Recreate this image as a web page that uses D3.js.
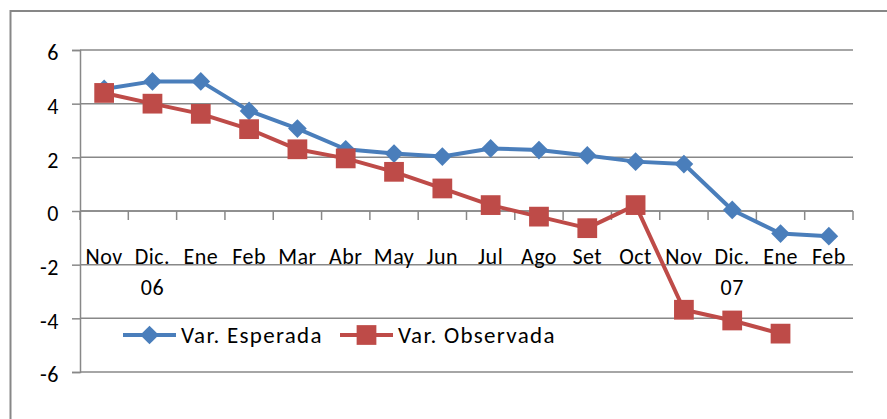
<!DOCTYPE html>
<html>
<head>
<meta charset="utf-8">
<script src="https://cdn.jsdelivr.net/npm/d3@7"></script>
<style>
  body { margin: 0; background: #fff; }
  svg text { font-family: Carlito, Calibri, Lato, sans-serif; fill: #000; }
</style>
</head>
<body>
<script>
// categories (months Nov 2006 - Feb 2008)
const months = ["Nov", "Dic.", "Ene", "Feb", "Mar", "Abr", "May", "Jun", "Jul", "Ago", "Set", "Oct", "Nov", "Dic.", "Ene", "Feb"];
const yearLabels = [{ i: 1, text: "06" }, { i: 13, text: "07" }];

const esperada = [4.55, 4.83, 4.83, 3.73, 3.07, 2.30, 2.14, 2.03, 2.33, 2.27, 2.07, 1.84, 1.75, 0.04, -0.84, -0.94];
const observada = [4.40, 4.00, 3.62, 3.05, 2.30, 1.96, 1.46, 0.84, 0.22, -0.21, -0.64, 0.22, -3.68, -4.08, -4.57];

const yTicks = [-6, -4, -2, 0, 2, 4, 6];

const width = 887, height = 419;
const margin = { top: 50, right: 34, bottom: 47, left: 80 };
const blue = "#4a7ebb", red = "#be4b48", grid = "#888888";

const svg = d3.select("body").append("svg")
    .attr("width", width)
    .attr("height", height);

// chart area border
svg.append("rect")
    .attr("x", 10.5).attr("y", 11)
    .attr("width", width + 20).attr("height", height + 20)
    .attr("fill", "#fff")
    .attr("stroke", "#878787")
    .attr("stroke-width", 2);

const x = d3.scaleBand()
    .domain(d3.range(months.length))
    .range([margin.left, width - margin.right])
    .padding(0);

const y = d3.scaleLinear()
    .domain([-6, 6])
    .range([height - margin.bottom, margin.top]);

const cx = i => x(i) + x.bandwidth() / 2;

// horizontal gridlines
svg.append("g")
    .selectAll("line")
    .data(yTicks)
    .enter()
    .append("line")
    .attr("x1", margin.left)
    .attr("x2", width - margin.right)
    .attr("y1", d => y(d))
    .attr("y2", d => y(d))
    .attr("stroke", grid)
    .attr("stroke-width", 1.5);

// y axis
const yAxis = svg.append("g")
    .attr("transform", `translate(${margin.left},0)`)
    .call(d3.axisLeft(y).tickValues(yTicks).tickSize(8).tickPadding(13).tickFormat(d3.format("d")));
yAxis.select(".domain").attr("stroke", grid).attr("stroke-width", 1.5);
yAxis.selectAll(".tick line").attr("stroke", grid).attr("stroke-width", 1.5);
yAxis.selectAll(".tick text")
    .attr("dy", "0.45em")
    .style("font-size", "22px")
    .style("letter-spacing", "0.5px")
    .text(d => d < 0 ? "-" + Math.abs(d) : d);

// x axis at zero, ticks between categories
const bounds = d3.range(months.length).map(i => x(i)).concat([x.range()[1]]);
const xAxis = svg.append("g");
xAxis.append("line")
    .attr("x1", margin.left).attr("x2", width - margin.right)
    .attr("y1", y(0)).attr("y2", y(0))
    .attr("stroke", grid).attr("stroke-width", 1.5);
xAxis.selectAll(".xtick")
    .data(bounds)
    .enter()
    .append("line")
    .attr("class", "xtick")
    .attr("x1", d => d).attr("x2", d => d)
    .attr("y1", y(0)).attr("y2", y(0) + 9)
    .attr("stroke", grid).attr("stroke-width", 1.5);

// category labels
svg.append("g")
    .selectAll("text")
    .data(months)
    .enter()
    .append("text")
    .attr("x", (d, i) => cx(i))
    .attr("y", 264)
    .attr("text-anchor", "middle")
    .style("font-size", "22px")
    .style("letter-spacing", "0.5px")
    .text(d => d);

svg.append("g")
    .selectAll("text")
    .data(yearLabels)
    .enter()
    .append("text")
    .attr("x", d => cx(d.i))
    .attr("y", 295)
    .attr("text-anchor", "middle")
    .style("font-size", "22px")
    .style("letter-spacing", "0.5px")
    .text(d => d.text);

// lines
const line = d3.line()
    .x((d, i) => cx(i))
    .y(d => y(d));

svg.append("path")
    .datum(esperada)
    .attr("fill", "none")
    .attr("stroke", blue)
    .attr("stroke-width", 4)
    .attr("stroke-linejoin", "round")
    .attr("d", line);

svg.append("path")
    .datum(observada)
    .attr("fill", "none")
    .attr("stroke", red)
    .attr("stroke-width", 4)
    .attr("stroke-linejoin", "round")
    .attr("d", line);

const diamond = d3.symbol().type(d3.symbolSquare).size(175);
const square = d3.symbol().type(d3.symbolSquare).size(390);

svg.append("g")
    .selectAll("path")
    .data(esperada)
    .enter()
    .append("path")
    .attr("d", diamond)
    .attr("transform", (d, i) => `translate(${cx(i)},${y(d)}) rotate(45)`)
    .attr("fill", blue);

svg.append("g")
    .selectAll("path")
    .data(observada)
    .enter()
    .append("path")
    .attr("d", square)
    .attr("transform", (d, i) => `translate(${cx(i)},${y(d)})`)
    .attr("fill", red);

// legend
const legend = svg.append("g").attr("transform", "translate(123,335)");
const items = [
    { label: "Var. Esperada", color: blue, sym: diamond, rot: 45, x: 0 },
    { label: "Var. Observada", color: red, sym: square, rot: 0, x: 217 }
];
const li = legend.selectAll("g")
    .data(items)
    .enter()
    .append("g")
    .attr("transform", d => `translate(${d.x},0)`);
li.append("line")
    .attr("x1", 0).attr("x2", 53)
    .attr("stroke", d => d.color)
    .attr("stroke-width", 4);
li.append("path")
    .attr("d", d => d.sym())
    .attr("transform", d => `translate(26.5,0) rotate(${d.rot})`)
    .attr("fill", d => d.color);
li.append("text")
    .attr("x", 58)
    .attr("y", 8)
    .style("font-size", "23px")
    .style("letter-spacing", "1.3px")
    .text(d => d.label);
</script>
</body>
</html>
